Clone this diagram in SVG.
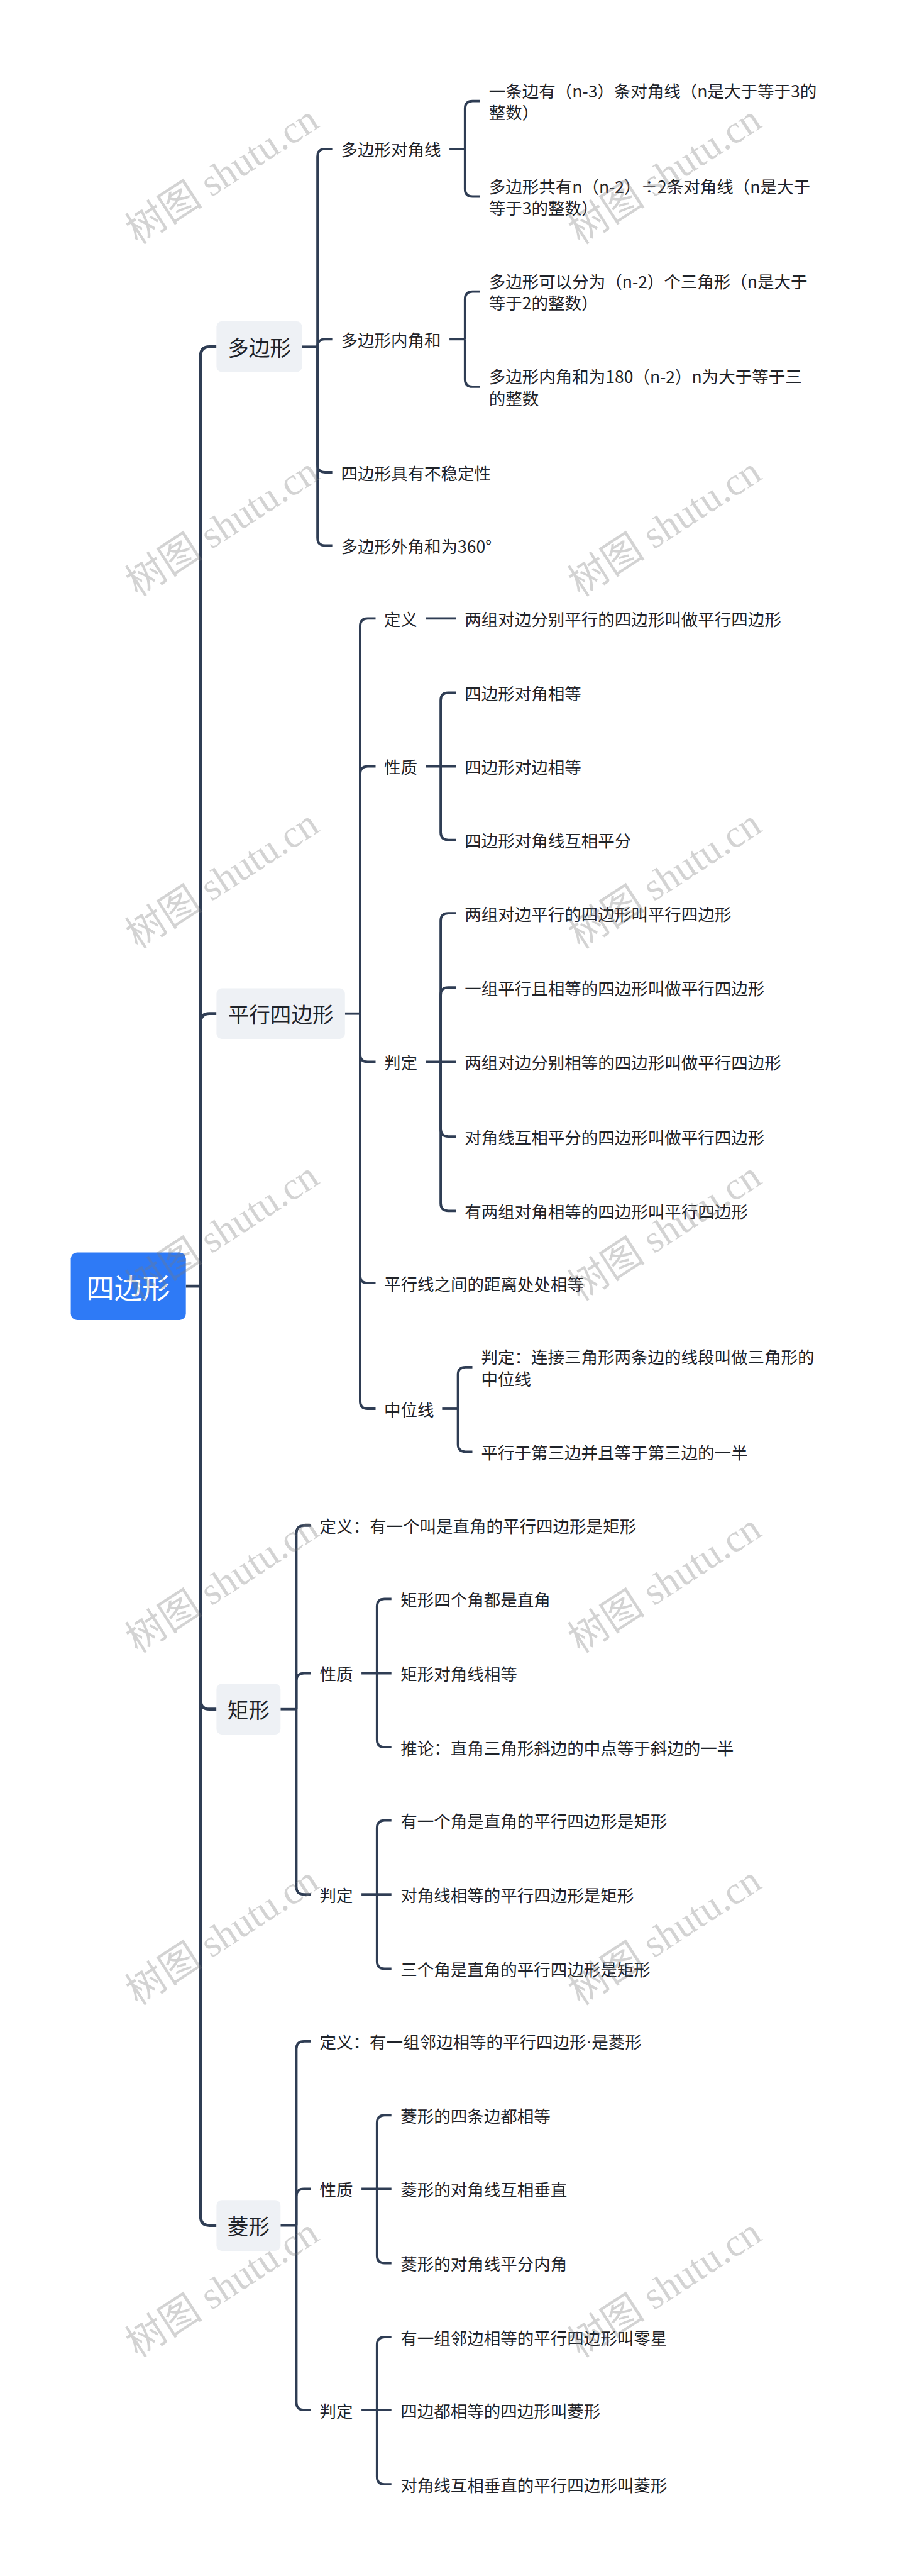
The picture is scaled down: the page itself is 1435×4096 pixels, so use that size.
<svg xmlns="http://www.w3.org/2000/svg" width="1435" height="4096" viewBox="0 0 1435 4096">
<style>
.t{font-family:"Noto Sans CJK SC","Noto Sans",sans-serif;font-size:26.5px;fill:#1f2329;dominant-baseline:central}
.t1{font-family:"Noto Sans CJK SC","Noto Sans",sans-serif;font-size:33.6px;fill:#1f2329;dominant-baseline:central;text-anchor:middle}
.tr{font-family:"Noto Sans CJK SC","Noto Sans",sans-serif;font-size:44.5px;fill:#ffffff;dominant-baseline:central;text-anchor:middle}
.dot{font-family:"Liberation Sans",sans-serif}
.b1{fill:#eef1f5}
.c path{fill:none;stroke:#2f3d54;stroke-width:3.8;stroke-linecap:butt}
.c path.k{stroke-width:4.7}
.wm text{font-family:"Liberation Serif","Noto Sans CJK SC",serif;font-size:62px;fill:#7a7a7a;fill-opacity:0.33}
</style>
<rect width="1435" height="4096" fill="#ffffff"/>
<g class="c" id="connectors">
<path class="k" d="M295.7,2045.1 H319.2"/>
<path class="k" d="M319.2,2045.1 V565.3 Q319.2,551.3 333.2,551.3 H344.4"/>
<path class="k" d="M319.2,2045.1 V1625.7 Q319.2,1611.7 333.2,1611.7 H344.4"/>
<path class="k" d="M319.2,2045.1 V2703.7 Q319.2,2717.7 333.2,2717.7 H344.4"/>
<path class="k" d="M319.2,2045.1 V3524.6 Q319.2,3538.6 333.2,3538.6 H344.4"/>
<path d="M480.5,551.3 H505.1"/>
<path d="M505.1,551.3 V248.9 Q505.1,236.9 517.1,236.9 H528.6"/>
<path d="M505.1,551.3 Q505.1,539.3 517.1,539.3 H528.6"/>
<path d="M505.1,551.3 V739.0 Q505.1,751.0 517.1,751.0 H528.6"/>
<path d="M505.1,551.3 V855.4 Q505.1,867.4 517.1,867.4 H528.6"/>
<path d="M715.1,236.9 H739.8"/>
<path d="M739.8,236.9 V172.7 Q739.8,160.7 751.8,160.7 H763.8"/>
<path d="M739.8,236.9 V300.5 Q739.8,312.5 751.8,312.5 H763.8"/>
<path d="M715.1,539.3 H739.8"/>
<path d="M739.8,539.3 V475.7 Q739.8,463.7 751.8,463.7 H763.8"/>
<path d="M739.8,539.3 V602.9 Q739.8,614.9 751.8,614.9 H763.8"/>
<path d="M548.8,1611.7 H572.9"/>
<path d="M572.9,1611.7 V995.4 Q572.9,983.4 584.9,983.4 H597.5"/>
<path d="M572.9,1611.7 V1230.6 Q572.9,1218.6 584.9,1218.6 H597.5"/>
<path d="M572.9,1611.7 V1676.4 Q572.9,1688.4 584.9,1688.4 H597.5"/>
<path d="M572.9,1611.7 V2028.1 Q572.9,2040.1 584.9,2040.1 H597.5"/>
<path d="M572.9,1611.7 V2228.0 Q572.9,2240.0 584.9,2240.0 H597.5"/>
<path d="M677.6,983.4 H725.2"/>
<path d="M677.6,1218.6 H701.1"/>
<path d="M701.1,1218.6 V1113.5 Q701.1,1101.5 713.1,1101.5 H725.2"/>
<path d="M701.1,1218.6 H725.2"/>
<path d="M701.1,1218.6 V1323.6 Q701.1,1335.6 713.1,1335.6 H725.2"/>
<path d="M677.6,1688.4 H701.1"/>
<path d="M701.1,1688.4 V1464.1 Q701.1,1452.1 713.1,1452.1 H725.2"/>
<path d="M701.1,1688.4 V1582.2 Q701.1,1570.2 713.1,1570.2 H725.2"/>
<path d="M701.1,1688.4 H725.2"/>
<path d="M701.1,1688.4 V1795.1 Q701.1,1807.1 713.1,1807.1 H725.2"/>
<path d="M701.1,1688.4 V1913.3 Q701.1,1925.3 713.1,1925.3 H725.2"/>
<path d="M703.4,2240.0 H728.6"/>
<path d="M728.6,2240.0 V2185.9 Q728.6,2173.9 740.6,2173.9 H751.5"/>
<path d="M728.6,2240.0 V2296.3 Q728.6,2308.3 740.6,2308.3 H751.5"/>
<path d="M446.3,2717.7 H471.5"/>
<path d="M471.5,2717.7 V2437.9 Q471.5,2425.9 483.5,2425.9 H494.5"/>
<path d="M471.5,2717.7 V2672.6 Q471.5,2660.6 483.5,2660.6 H494.5"/>
<path d="M471.5,2717.7 V3000.2 Q471.5,3012.2 483.5,3012.2 H494.5"/>
<path d="M575.1,2660.6 H599.8"/>
<path d="M599.8,2660.6 V2554.4 Q599.8,2542.4 611.8,2542.4 H622.7"/>
<path d="M599.8,2660.6 H622.7"/>
<path d="M599.8,2660.6 V2766.2 Q599.8,2778.2 611.8,2778.2 H622.7"/>
<path d="M575.1,3012.2 H599.8"/>
<path d="M599.8,3012.2 V2906.6 Q599.8,2894.6 611.8,2894.6 H622.7"/>
<path d="M599.8,3012.2 H622.7"/>
<path d="M599.8,3012.2 V3118.4 Q599.8,3130.4 611.8,3130.4 H622.7"/>
<path d="M446.3,3538.6 H471.5"/>
<path d="M471.5,3538.6 V3257.8 Q471.5,3245.8 483.5,3245.8 H494.5"/>
<path d="M471.5,3538.6 V3492.4 Q471.5,3480.4 483.5,3480.4 H494.5"/>
<path d="M471.5,3538.6 V3820.1 Q471.5,3832.1 483.5,3832.1 H494.5"/>
<path d="M575.1,3480.4 H599.8"/>
<path d="M599.8,3480.4 V3375.4 Q599.8,3363.4 611.8,3363.4 H622.7"/>
<path d="M599.8,3480.4 H622.7"/>
<path d="M599.8,3480.4 V3586.6 Q599.8,3598.6 611.8,3598.6 H622.7"/>
<path d="M575.1,3832.1 H599.8"/>
<path d="M599.8,3832.1 V3728.2 Q599.8,3716.2 611.8,3716.2 H622.7"/>
<path d="M599.8,3832.1 H622.7"/>
<path d="M599.8,3832.1 V3938.2 Q599.8,3950.2 611.8,3950.2 H622.7"/>
</g>
<g id="root"><rect x="112.6" y="1991.4" width="183.1" height="107.5" rx="10" fill="#2e7af6"/><text class="tr" x="204.1" y="2045.1">四边形</text></g>
<g id="n-duobianxing"><rect class="b1" x="344.4" y="511" width="136.1" height="80.6" rx="8.5"/><text class="t1" x="412.5" y="551.3">多边形</text></g>
<g id="n-pingxing"><rect class="b1" x="344.4" y="1571.4" width="204.4" height="80.6" rx="8.5"/><text class="t1" x="446.6" y="1611.7">平行四边形</text></g>
<g id="n-juxing"><rect class="b1" x="344.4" y="2677.4" width="101.9" height="80.6" rx="8.5"/><text class="t1" x="395.4" y="2717.7">矩形</text></g>
<g id="n-lingxing"><rect class="b1" x="344.4" y="3498.3" width="101.9" height="80.6" rx="8.5"/><text class="t1" x="395.4" y="3538.6">菱形</text></g>
<g id="n-djx"><text class="t" x="542.6" y="236.9">多边形对角线</text></g>
<g id="n-djx1"><text class="t" x="777.8" y="143.6">一条边有（n-3）条对角线（n是大于等于3的</text><text class="t" x="777.8" y="177.8">整数）</text></g>
<g id="n-djx2"><text class="t" x="777.8" y="295.4">多边形共有n（n-2）÷2条对角线（n是大于</text><text class="t" x="777.8" y="329.6">等于3的整数）</text></g>
<g id="n-njh"><text class="t" x="542.6" y="539.3">多边形内角和</text></g>
<g id="n-njh1"><text class="t" x="777.8" y="446.6">多边形可以分为（n-2）个三角形（n是大于</text><text class="t" x="777.8" y="480.8">等于2的整数）</text></g>
<g id="n-njh2"><text class="t" x="777.8" y="597.8">多边形内角和为180（n-2）n为大于等于三</text><text class="t" x="777.8" y="632.0">的整数</text></g>
<g id="n-bwd"><text class="t" x="542.6" y="751.0">四边形具有不稳定性</text></g>
<g id="n-wjh"><text class="t" x="542.6" y="867.4">多边形外角和为360°</text></g>
<g id="n-p-dy"><text class="t" x="611.0" y="983.4">定义</text></g>
<g id="n-p-dy1"><text class="t" x="739.2" y="983.4">两组对边分别平行的四边形叫做平行四边形</text></g>
<g id="n-p-xz"><text class="t" x="611.0" y="1218.6">性质</text></g>
<g id="n-p-xz1"><text class="t" x="739.2" y="1101.5">四边形对角相等</text></g>
<g id="n-p-xz2"><text class="t" x="739.2" y="1218.6">四边形对边相等</text></g>
<g id="n-p-xz3"><text class="t" x="739.2" y="1335.6">四边形对角线互相平分</text></g>
<g id="n-p-pd"><text class="t" x="611.0" y="1688.4">判定</text></g>
<g id="n-p-pd1"><text class="t" x="739.2" y="1452.1">两组对边平行的四边形叫平行四边形</text></g>
<g id="n-p-pd2"><text class="t" x="739.2" y="1570.2">一组平行且相等的四边形叫做平行四边形</text></g>
<g id="n-p-pd3"><text class="t" x="739.2" y="1688.4">两组对边分别相等的四边形叫做平行四边形</text></g>
<g id="n-p-pd4"><text class="t" x="739.2" y="1807.1">对角线互相平分的四边形叫做平行四边形</text></g>
<g id="n-p-pd5"><text class="t" x="739.2" y="1925.3">有两组对角相等的四边形叫平行四边形</text></g>
<g id="n-p-jl"><text class="t" x="611.0" y="2040.1">平行线之间的距离处处相等</text></g>
<g id="n-p-zwx"><text class="t" x="611.0" y="2240.0">中位线</text></g>
<g id="n-p-zwx1"><text class="t" x="765.5" y="2156.8">判定：连接三角形两条边的线段叫做三角形的</text><text class="t" x="765.5" y="2191.0">中位线</text></g>
<g id="n-p-zwx2"><text class="t" x="765.5" y="2308.3">平行于第三边并且等于第三边的一半</text></g>
<g id="n-j-dy"><text class="t" x="508.5" y="2425.9">定义：有一个叫是直角的平行四边形是矩形</text></g>
<g id="n-j-xz"><text class="t" x="508.5" y="2660.6">性质</text></g>
<g id="n-j-xz1"><text class="t" x="637.3" y="2542.4">矩形四个角都是直角</text></g>
<g id="n-j-xz2"><text class="t" x="637.3" y="2660.6">矩形对角线相等</text></g>
<g id="n-j-xz3"><text class="t" x="637.3" y="2778.2">推论：直角三角形斜边的中点等于斜边的一半</text></g>
<g id="n-j-pd"><text class="t" x="508.5" y="3012.2">判定</text></g>
<g id="n-j-pd1"><text class="t" x="637.3" y="2894.6">有一个角是直角的平行四边形是矩形</text></g>
<g id="n-j-pd2"><text class="t" x="637.3" y="3012.2">对角线相等的平行四边形是矩形</text></g>
<g id="n-j-pd3"><text class="t" x="637.3" y="3130.4">三个角是直角的平行四边形是矩形</text></g>
<g id="n-l-dy"><text class="t" x="508.5" y="3245.8">定义：有一组邻边相等的平行四边形<tspan class="dot">·</tspan>是菱形</text></g>
<g id="n-l-xz"><text class="t" x="508.5" y="3480.4">性质</text></g>
<g id="n-l-xz1"><text class="t" x="637.3" y="3363.4">菱形的四条边都相等</text></g>
<g id="n-l-xz2"><text class="t" x="637.3" y="3480.4">菱形的对角线互相垂直</text></g>
<g id="n-l-xz3"><text class="t" x="637.3" y="3598.6">菱形的对角线平分内角</text></g>
<g id="n-l-pd"><text class="t" x="508.5" y="3832.1">判定</text></g>
<g id="n-l-pd1"><text class="t" x="637.3" y="3716.2">有一组邻边相等的平行四边形叫零星</text></g>
<g id="n-l-pd2"><text class="t" x="637.3" y="3832.1">四边都相等的四边形叫菱形</text></g>
<g id="n-l-pd3"><text class="t" x="637.3" y="3950.2">对角线互相垂直的平行四边形叫菱形</text></g>
<g class="wm" id="watermarks">
<text x="219" y="390" transform="rotate(-33 219 390)">树图 shutu.cn</text>
<text x="923" y="390" transform="rotate(-33 923 390)">树图 shutu.cn</text>
<text x="219" y="950" transform="rotate(-33 219 950)">树图 shutu.cn</text>
<text x="923" y="950" transform="rotate(-33 923 950)">树图 shutu.cn</text>
<text x="219" y="1510" transform="rotate(-33 219 1510)">树图 shutu.cn</text>
<text x="923" y="1510" transform="rotate(-33 923 1510)">树图 shutu.cn</text>
<text x="219" y="2070" transform="rotate(-33 219 2070)">树图 shutu.cn</text>
<text x="923" y="2070" transform="rotate(-33 923 2070)">树图 shutu.cn</text>
<text x="219" y="2630" transform="rotate(-33 219 2630)">树图 shutu.cn</text>
<text x="923" y="2630" transform="rotate(-33 923 2630)">树图 shutu.cn</text>
<text x="219" y="3190" transform="rotate(-33 219 3190)">树图 shutu.cn</text>
<text x="923" y="3190" transform="rotate(-33 923 3190)">树图 shutu.cn</text>
<text x="219" y="3750" transform="rotate(-33 219 3750)">树图 shutu.cn</text>
<text x="923" y="3750" transform="rotate(-33 923 3750)">树图 shutu.cn</text>
</g>
</svg>
